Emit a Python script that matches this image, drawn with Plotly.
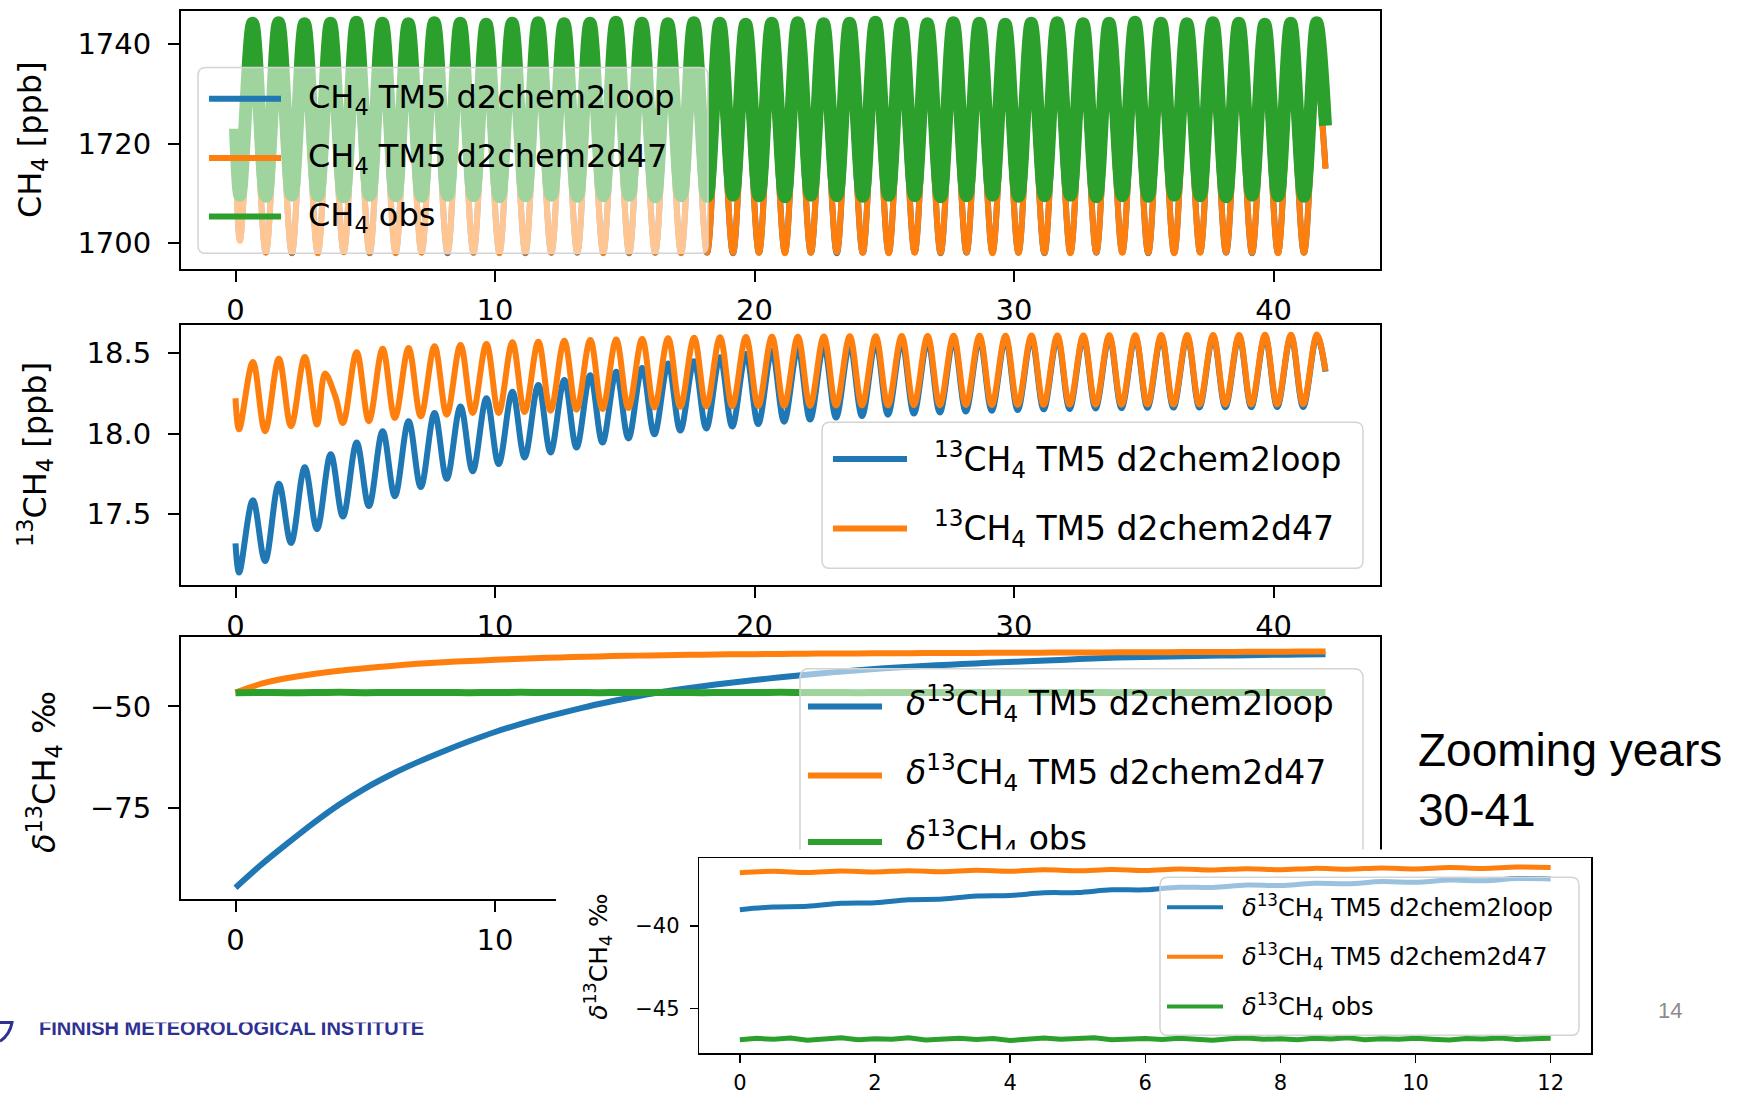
import numpy as np
import plotly.graph_objects as go

W, H = 1738, 1095

# ======================= DATA =======================
# ---- Panel 1: CH4 [ppb]; one seasonal trough and one peak per model year 0..41
CH4_TROUGH_PHASE = 0.17
CH4_PEAK_PHASE = 0.66
CH4_END_YEAR = 42.0

CH4_LOOP_START, CH4_LOOP_END = 1720.3, 1715.1
CH4_LOOP_TROUGH = [1700.6, 1698.1, 1697.9, 1698.0, 1698.2, 1697.9, 1698.0, 1698.1, 1697.9, 1698.0,
                   1698.1, 1697.9, 1698.0, 1698.0, 1698.1, 1697.9, 1698.0, 1698.1, 1698.0, 1697.9,
                   1698.0, 1698.1, 1698.0, 1697.9, 1698.0, 1698.0, 1698.1, 1697.9, 1698.0, 1698.1,
                   1698.0, 1697.9, 1698.0, 1698.0, 1698.1, 1697.9, 1698.0, 1698.1, 1698.0, 1697.9,
                   1698.0, 1698.0]
CH4_LOOP_PEAK = [1733.4, 1733.2, 1733.5, 1734.1, 1733.3, 1733.1, 1733.4, 1733.2, 1733.3, 1733.0,
                 1733.2, 1733.4, 1733.1, 1733.3, 1733.2, 1733.0, 1733.3, 1733.2, 1733.4, 1733.1,
                 1733.2, 1733.3, 1733.0, 1733.2, 1733.4, 1733.1, 1733.2, 1733.3, 1733.0, 1733.2,
                 1733.4, 1733.1, 1733.2, 1733.3, 1733.0, 1733.2, 1733.4, 1733.1, 1733.2, 1733.3,
                 1733.1, 1733.2]
CH4_D47_START, CH4_D47_END = 1720.0, 1714.9
CH4_D47_TROUGH = [1700.4, 1698.0, 1698.0, 1697.9, 1698.1, 1698.0, 1697.9, 1698.0, 1698.1, 1698.0,
                  1697.9, 1698.0, 1698.0, 1698.1, 1697.9, 1698.0, 1698.0, 1697.9, 1698.1, 1698.0,
                  1698.0, 1697.9, 1698.0, 1698.1, 1698.0, 1697.9, 1698.0, 1698.0, 1698.1, 1697.9,
                  1698.0, 1698.0, 1697.9, 1698.1, 1698.0, 1698.0, 1697.9, 1698.0, 1698.1, 1698.0,
                  1697.9, 1698.0]
CH4_D47_PEAK = [1733.2, 1733.3, 1733.4, 1733.1, 1733.2, 1733.3, 1733.0, 1733.2, 1733.4, 1733.1,
                1733.3, 1733.2, 1733.0, 1733.3, 1733.2, 1733.4, 1733.1, 1733.2, 1733.3, 1733.0,
                1733.2, 1733.4, 1733.1, 1733.3, 1733.2, 1733.0, 1733.3, 1733.2, 1733.4, 1733.1,
                1733.2, 1733.3, 1733.0, 1733.2, 1733.4, 1733.1, 1733.3, 1733.2, 1733.0, 1733.3,
                1733.2, 1733.3]
CH4_OBS_START, CH4_OBS_END = 1723.0, 1723.6
CH4_OBS_TROUGH = [1709.6, 1709.4, 1709.6, 1709.5, 1709.3, 1709.6, 1709.5, 1709.4, 1709.6, 1709.5,
                  1709.3, 1709.5, 1709.6, 1709.4, 1709.5, 1709.6, 1709.3, 1709.5, 1709.4, 1709.6,
                  1709.5, 1709.3, 1709.6, 1709.5, 1709.4, 1709.6, 1709.5, 1709.3, 1709.5, 1709.6,
                  1709.4, 1709.5, 1709.6, 1709.3, 1709.5, 1709.4, 1709.6, 1709.5, 1709.3, 1709.6,
                  1709.5, 1709.4]
CH4_OBS_PEAK = [1744.2, 1744.3, 1744.1, 1744.2, 1744.4, 1744.2, 1744.1, 1744.3, 1744.2, 1744.0,
                1744.2, 1744.3, 1744.1, 1744.2, 1744.4, 1744.2, 1744.1, 1744.3, 1744.2, 1744.0,
                1744.2, 1744.3, 1744.1, 1744.2, 1744.4, 1744.2, 1744.1, 1744.3, 1744.2, 1744.0,
                1744.2, 1744.3, 1744.1, 1744.2, 1744.4, 1744.2, 1744.1, 1744.3, 1744.2, 1744.0,
                1744.2, 1744.3]

# ---- Panel 2: 13CH4 [ppb]
C13_TROUGH_PHASE = 0.14
C13_PEAK_PHASE = 0.67
C13_LOOP_START, C13_LOOP_END = 17.32, 18.385
C13_LOOP_TROUGH = [17.139, 17.210, 17.322, 17.408, 17.486, 17.551, 17.612, 17.669, 17.720, 17.767,
                   17.812, 17.853, 17.884, 17.914, 17.945, 17.971, 17.996, 18.020, 18.033, 18.045,
                   18.060, 18.075, 18.088, 18.100, 18.110, 18.118, 18.125, 18.132, 18.138, 18.143,
                   18.147, 18.151, 18.154, 18.157, 18.159, 18.161, 18.162, 18.163, 18.164, 18.165,
                   18.166, 18.166]
C13_LOOP_PEAK = [17.588, 17.690, 17.792, 17.873, 17.945, 18.016, 18.078, 18.129, 18.169, 18.220,
                 18.261, 18.302, 18.333, 18.363, 18.384, 18.408, 18.435, 18.449, 18.475, 18.495,
                 18.515, 18.530, 18.545, 18.555, 18.565, 18.572, 18.578, 18.583, 18.587, 18.590,
                 18.593, 18.595, 18.597, 18.599, 18.600, 18.601, 18.602, 18.603, 18.604, 18.605,
                 18.606, 18.607]
C13_D47_START, C13_D47_END = 18.22, 18.39
C13_D47_TROUGH = [18.027, 18.016, 18.047, 18.057, 18.067, 18.078, 18.098, 18.108, 18.118, 18.129,
                  18.129, 18.135, 18.143, 18.149, 18.153, 18.159, 18.163, 18.167, 18.169, 18.171,
                  18.172, 18.173, 18.174, 18.175, 18.176, 18.176, 18.177, 18.177, 18.178, 18.178,
                  18.179, 18.179, 18.180, 18.180, 18.180, 18.181, 18.181, 18.181, 18.182, 18.182,
                  18.182, 18.183]
C13_D47_PEAK = [18.445, 18.465, 18.476, 18.373, 18.506, 18.527, 18.531, 18.543, 18.551, 18.557,
                18.567, 18.571, 18.576, 18.582, 18.584, 18.588, 18.592, 18.596, 18.598, 18.600,
                18.601, 18.602, 18.603, 18.604, 18.605, 18.606, 18.606, 18.607, 18.608, 18.608,
                18.609, 18.610, 18.610, 18.611, 18.611, 18.612, 18.612, 18.613, 18.613, 18.614,
                18.614, 18.615]
C13_D47_PEAK_TIME_OVERRIDE = {3: 3.45}          # irregular peak in year 3
C13_D47_EXTRA_POINTS = [(3.85, 18.23)]          # shoulder after that peak

# ---- Panel 3: delta13CH4 permil, yearly values 0..42
D13_YEARS = list(range(43))
D13_LOOP = [-94.7, -89.0, -83.8, -78.8, -74.2, -70.2, -66.8, -63.8, -61.1, -58.6,
            -56.3, -54.3, -52.5, -50.9, -49.4, -48.1, -46.9, -45.9, -45.0, -44.2,
            -43.5, -42.8, -42.2, -41.6, -41.1, -40.6, -40.2, -39.85, -39.55, -39.25,
            -39.0, -38.72, -38.46, -38.2, -37.96, -37.8, -37.66, -37.56, -37.46, -37.36,
            -37.26, -37.19, -37.12]
D13_D47 = [-46.6, -44.4, -43.0, -42.0, -41.2, -40.6, -40.0, -39.5, -39.1, -38.8,
           -38.5, -38.25, -38.0, -37.82, -37.66, -37.52, -37.42, -37.32, -37.23, -37.16,
           -37.1, -37.04, -36.99, -36.95, -36.92, -36.89, -36.86, -36.84, -36.81, -36.79,
           -36.76, -36.73, -36.71, -36.68, -36.66, -36.63, -36.61, -36.58, -36.56, -36.53,
           -36.51, -36.48, -36.46]
D13_OBS = [-46.6, -46.55, -46.62, -46.57, -46.53, -46.6, -46.56, -46.58, -46.54, -46.61,
           -46.56, -46.53, -46.59, -46.57, -46.6, -46.55, -46.58, -46.54, -46.6, -46.56,
           -46.57, -46.53, -46.59, -46.56, -46.6, -46.55, -46.58, -46.54, -46.57, -46.6,
           -46.56, -46.53, -46.58, -46.55, -46.6, -46.56, -46.57, -46.54, -46.59, -46.55,
           -46.58, -46.56, -46.57]

# ---- Inset: years 30-41 zoomed (x = 0..12)
INSET_HALF_YEAR_STEP = 0.5
INSET_D47 = [-36.78, -36.70, -36.77, -36.68, -36.74, -36.66, -36.72, -36.64, -36.70, -36.61,
             -36.67, -36.59, -36.65, -36.56, -36.62, -36.54, -36.60, -36.52, -36.57, -36.49,
             -36.55, -36.47, -36.52, -36.44, -36.47]
INSET_LOOP = [-39.02, -38.86, -38.82, -38.64, -38.60, -38.42, -38.38, -38.20, -38.16, -38.00,
              -37.98, -37.82, -37.82, -37.66, -37.68, -37.53, -37.56, -37.42, -37.45, -37.32,
              -37.36, -37.23, -37.27, -37.14, -37.16]
INSET_QUARTER_STEP = 0.25
INSET_OBS = [-46.90, -46.82, -46.88, -46.80, -46.93, -46.85, -46.79, -46.90, -46.84, -46.88,
             -46.78, -46.92, -46.86, -46.81, -46.89, -46.83, -46.95, -46.84, -46.80, -46.88,
             -46.86, -46.79, -46.91, -46.85, -46.83, -46.89, -46.81, -46.87, -46.93, -46.84,
             -46.80, -46.88, -46.85, -46.90, -46.82, -46.86, -46.79, -46.91, -46.84, -46.88,
             -46.81, -46.87, -46.92, -46.83, -46.86, -46.80, -46.89, -46.84, -46.82]

# ---- Tick values and labels
MAIN_XTICKS = [0, 10, 20, 30, 40]
TOP_YTICKS = [1700, 1720, 1740]
MID_YTICKS = [17.5, 18.0, 18.5]
BOT_YTICKS = [-75, -50]
INSET_XTICKS = [0, 2, 4, 6, 8, 10, 12]
INSET_YTICKS = [-45, -40]

TOP_LABELS = ["CH<sub>4</sub> TM5 d2chem2loop", "CH<sub>4</sub> TM5 d2chem2d47", "CH<sub>4</sub> obs"]
MID_LABELS = ["<sup>13</sup>CH<sub>4</sub> TM5 d2chem2loop", "<sup>13</sup>CH<sub>4</sub> TM5 d2chem2d47"]
D13_LABELS = ["<i>δ</i><sup>13</sup>CH<sub>4</sub> TM5 d2chem2loop",
              "<i>δ</i><sup>13</sup>CH<sub>4</sub> TM5 d2chem2d47",
              "<i>δ</i><sup>13</sup>CH<sub>4</sub> obs"]
YLABELS = ["CH<sub>4</sub> [ppb]", "<sup>13</sup>CH<sub>4</sub> [ppb]", "<i>δ</i><sup>13</sup>CH<sub>4</sub> ‰"]

# ======================= STYLE =======================
BLUE, ORANGE, GREEN = "#1f77b4", "#ff7f0e", "#2ca02c"
FONT = "DejaVu Sans"
LEGEND_FILL = "rgba(255,255,255,0.55)"
LEGEND_EDGE = "#d4d4d4"


def turning_points(start, troughs, peaks, end, t_phase, p_phase, end_x,
                   peak_time_override=None, extra=None):
    xs, ys = [0.0], [start]
    for n, (tr, pk) in enumerate(zip(troughs, peaks)):
        xs.append(n + t_phase)
        ys.append(tr)
        xs.append((peak_time_override or {}).get(n, n + p_phase))
        ys.append(pk)
    for ex, ey in (extra or []):
        xs.append(ex)
        ys.append(ey)
    xs.append(end_x)
    ys.append(end)
    order = np.argsort(xs, kind="stable")
    return list(np.array(xs)[order]), list(np.array(ys)[order])


def rrect_points(x0, y0, x1, y1, r, n=10):
    px, py = [], []
    for cx, cy, a0, a1 in [(x1 - r, y0 + r, -90, 0), (x1 - r, y1 - r, 0, 90),
                           (x0 + r, y1 - r, 90, 180), (x0 + r, y0 + r, 180, 270)]:
        for a in np.linspace(a0, a1, n):
            px.append(cx + r * np.cos(np.radians(a)))
            py.append(cy + r * np.sin(np.radians(a)))
    px.append(px[0])
    py.append(py[0])
    return px, py


def rrect_path(x0, y0, x1, y1, r):
    return (f"M {x0 + r},{y0} L {x1 - r},{y0} Q {x1},{y0} {x1},{y0 + r} "
            f"L {x1},{y1 - r} Q {x1},{y1} {x1 - r},{y1} L {x0 + r},{y1} "
            f"Q {x0},{y1} {x0},{y1 - r} L {x0},{y0 + r} Q {x0},{y0} {x0 + r},{y0} Z")


fig = go.Figure()
NOHOVER = dict(showlegend=False, hoverinfo="skip")

# ---------- subplot 1 (x,y): slide background: FMI text partly hidden by the figure image
fig.add_trace(go.Scatter(x=[39], y=[1037], mode="text",
                         text=["<b>FINNISH METEOROLOGICAL INSTITUTE</b>"],
                         textposition="middle right",
                         textfont=dict(family="Liberation Sans", size=20, color="#2e3192"),
                         xaxis="x", yaxis="y", **NOHOVER))
fig.add_trace(go.Scatter(x=[0, 1400, 1400, 0, 0], y=[0, 0, 1029, 1029, 0], mode="lines",
                         fill="toself", fillcolor="white", line=dict(width=0),
                         xaxis="x", yaxis="y", **NOHOVER))

# ---------- subplot 2: CH4
for start, tr, pk, end, col, w in [
        (CH4_LOOP_START, CH4_LOOP_TROUGH, CH4_LOOP_PEAK, CH4_LOOP_END, BLUE, 6),
        (CH4_D47_START, CH4_D47_TROUGH, CH4_D47_PEAK, CH4_D47_END, ORANGE, 6),
        (CH4_OBS_START, CH4_OBS_TROUGH, CH4_OBS_PEAK, CH4_OBS_END, GREEN, 13)]:
    xs, ys = turning_points(start, tr, pk, end, CH4_TROUGH_PHASE, CH4_PEAK_PHASE, CH4_END_YEAR)
    fig.add_trace(go.Scatter(x=xs, y=ys, mode="lines",
                             line=dict(color=col, width=w, shape="spline", smoothing=1),
                             xaxis="x2", yaxis="y2", **NOHOVER))

# ---------- subplot 3: 13CH4
xs, ys = turning_points(C13_LOOP_START, C13_LOOP_TROUGH, C13_LOOP_PEAK, C13_LOOP_END,
                        C13_TROUGH_PHASE, C13_PEAK_PHASE, CH4_END_YEAR)
fig.add_trace(go.Scatter(x=xs, y=ys, mode="lines",
                         line=dict(color=BLUE, width=6, shape="spline", smoothing=1),
                         xaxis="x3", yaxis="y3", **NOHOVER))
xs, ys = turning_points(C13_D47_START, C13_D47_TROUGH, C13_D47_PEAK, C13_D47_END,
                        C13_TROUGH_PHASE, C13_PEAK_PHASE, CH4_END_YEAR,
                        C13_D47_PEAK_TIME_OVERRIDE, C13_D47_EXTRA_POINTS)
fig.add_trace(go.Scatter(x=xs, y=ys, mode="lines",
                         line=dict(color=ORANGE, width=6, shape="spline", smoothing=1),
                         xaxis="x3", yaxis="y3", **NOHOVER))

# ---------- subplot 4: delta13CH4
for vals, col, w in [(D13_LOOP, BLUE, 6), (D13_D47, ORANGE, 6), (D13_OBS, GREEN, 7)]:
    fig.add_trace(go.Scatter(x=D13_YEARS, y=vals, mode="lines",
                             line=dict(color=col, width=w, shape="spline", smoothing=0.8),
                             xaxis="x4", yaxis="y4", **NOHOVER))

# ---------- subplot 5 (overlay in pixel units): legend of panel 3, then the inset's white image
bx, by = rrect_points(800, 673, 1363, 895, 8)
fig.add_trace(go.Scatter(x=bx, y=by, mode="lines", fill="toself", fillcolor=LEGEND_FILL,
                         line=dict(color=LEGEND_EDGE, width=1.5),
                         xaxis="x5", yaxis="y5", **NOHOVER))
BOT_ROWS = [711, 780.5, 847.5]
for row, col in zip(BOT_ROWS, [BLUE, ORANGE, GREEN]):
    fig.add_trace(go.Scatter(x=[808, 882], y=[row, row], mode="lines",
                             line=dict(color=col, width=6), xaxis="x5", yaxis="y5", **NOHOVER))
fig.add_trace(go.Scatter(x=[906] * 3, y=BOT_ROWS, mode="text", text=D13_LABELS,
                         textposition="middle right",
                         textfont=dict(family=FONT, size=33, color="black"),
                         xaxis="x5", yaxis="y5", **NOHOVER))
fig.add_trace(go.Scatter(x=[556, 1625, 1625, 556, 556], y=[855, 855, 1095, 1095, 855],
                         mode="lines", fill="toself", fillcolor="white", line=dict(width=0),
                         xaxis="x5", yaxis="y5", **NOHOVER))

# ---------- subplot 6: inset
ix_half = [i * INSET_HALF_YEAR_STEP for i in range(len(INSET_LOOP))]
ix_q = [i * INSET_QUARTER_STEP for i in range(len(INSET_OBS))]
fig.add_trace(go.Scatter(x=ix_half, y=INSET_LOOP, mode="lines",
                         line=dict(color=BLUE, width=5, shape="spline", smoothing=1),
                         xaxis="x6", yaxis="y6", **NOHOVER))
fig.add_trace(go.Scatter(x=ix_half, y=INSET_D47, mode="lines",
                         line=dict(color=ORANGE, width=5, shape="spline", smoothing=1),
                         xaxis="x6", yaxis="y6", **NOHOVER))
fig.add_trace(go.Scatter(x=ix_q, y=INSET_OBS, mode="lines",
                         line=dict(color=GREEN, width=5),
                         xaxis="x6", yaxis="y6", **NOHOVER))

# ======================= LAYOUT =======================
def px_dom_x(a, b):
    return [a / W, b / W]


def px_dom_y(top, bottom):
    return [1 - bottom / H, 1 - top / H]


AX = dict(showline=True, linecolor="black", linewidth=2, mirror=True, ticks="outside",
          ticklen=11, tickwidth=2, tickcolor="black", showgrid=False, zeroline=False,
          tickfont=dict(family=FONT, size=29, color="black"), fixedrange=True)
AXI = dict(AX, linewidth=1.5, ticklen=8, tickwidth=1.5,
           tickfont=dict(family=FONT, size=21, color="black"))
HIDDEN = dict(visible=False, fixedrange=True, showgrid=False, zeroline=False)

MAIN_X = px_dom_x(181, 1380)
layout = dict(
    width=W, height=H, autosize=False, margin=dict(l=0, r=0, t=0, b=0),
    paper_bgcolor="white", plot_bgcolor="rgba(0,0,0,0)", showlegend=False, hovermode=False,
    font=dict(family=FONT, color="black"),
    xaxis=dict(HIDDEN, domain=[0, 1], range=[0, W], anchor="y"),
    yaxis=dict(HIDDEN, domain=[0, 1], range=[H, 0], anchor="x"),
    xaxis2=dict(AX, domain=MAIN_X, range=[-2.1, 44.1], anchor="y2", tickvals=MAIN_XTICKS,
                ticklabelstandoff=3),
    yaxis2=dict(AX, domain=px_dom_y(11, 271), range=[1694.68, 1746.7], anchor="x2",
                tickvals=TOP_YTICKS, ticklabelstandoff=11),
    xaxis3=dict(AX, domain=MAIN_X, range=[-2.1, 44.1], anchor="y3", tickvals=MAIN_XTICKS,
                ticklabelstandoff=3),
    yaxis3=dict(AX, domain=px_dom_y(327, 589), range=[17.06, 18.675], anchor="x3",
                tickvals=MID_YTICKS, tickformat=".1f", ticklabelstandoff=11),
    xaxis4=dict(AX, domain=MAIN_X, range=[-2.1, 44.1], anchor="y4", tickvals=MAIN_XTICKS,
                ticklabelstandoff=3),
    yaxis4=dict(AX, domain=px_dom_y(641, 905), range=[-97.55, -32.85], anchor="x4",
                tickvals=BOT_YTICKS, ticklabelstandoff=11),
    xaxis5=dict(HIDDEN, domain=[0, 1], range=[0, W], anchor="y5"),
    yaxis5=dict(HIDDEN, domain=[0, 1], range=[H, 0], anchor="x5"),
    xaxis6=dict(AXI, domain=px_dom_x(699.3, 1591.2), range=[-0.6, 12.6], anchor="y6",
                tickvals=INSET_XTICKS, ticklabelstandoff=2),
    yaxis6=dict(AXI, domain=px_dom_y(864, 1060), range=[-47.72, -35.92], anchor="x6",
                tickvals=INSET_YTICKS, ticklabelstandoff=6),
)

shapes = []
annotations = []


def add_legend(box, rows, hx, tx, labels, colors, fs, lw):
    x0, y0, x1, y1 = box
    shapes.append(dict(type="path", path=rrect_path(x0, y0, x1, y1, 8), xref="x5", yref="y5",
                       fillcolor=LEGEND_FILL, line=dict(color=LEGEND_EDGE, width=1.5),
                       layer="above"))
    for row, col, lab in zip(rows, colors, labels):
        shapes.append(dict(type="line", x0=hx[0], x1=hx[1], y0=row, y1=row, xref="x5", yref="y5",
                           line=dict(color=col, width=lw), layer="above"))
        annotations.append(dict(x=tx, y=row, xref="x5", yref="y5", text=lab, showarrow=False,
                                xanchor="left", yanchor="middle",
                                font=dict(family=FONT, size=fs, color="black")))


add_legend((198, 68, 708, 255), [99.5, 159, 218], (209, 281), 306, TOP_LABELS,
           [BLUE, ORANGE, GREEN], 32, 6)
add_legend((822, 425, 1363, 572), [462, 532], (833, 907), 932, MID_LABELS,
           [BLUE, ORANGE], 33, 6)
add_legend((1160, 883, 1579, 1042), [913, 963, 1013], (1167, 1223), 1240, D13_LABELS,
           [BLUE, ORANGE, GREEN], 24, 4)

# y-axis titles
for (x, y, fs), lab in zip([(32, 141, 32), (35, 458, 32), (44, 777, 32)], YLABELS):
    annotations.append(dict(x=x, y=y, xref="x5", yref="y5", text=lab, textangle=-90,
                            showarrow=False, xanchor="center", yanchor="middle",
                            font=dict(family=FONT, size=fs, color="black")))
annotations.append(dict(x=598, y=963, xref="x5", yref="y5", text=YLABELS[2], textangle=-90,
                        showarrow=False, xanchor="center", yanchor="middle",
                        font=dict(family=FONT, size=25, color="black")))

# slide texts
annotations.append(dict(x=1416, y=785, xref="x5", yref="y5", text="Zooming years<br>30-41",
                        showarrow=False, xanchor="left", yanchor="middle", align="left",
                        font=dict(family="Liberation Sans", size=46, color="black")))
annotations.append(dict(x=1670, y=1016.5, xref="x5", yref="y5", text="14", showarrow=False,
                        xanchor="center", yanchor="middle",
                        font=dict(family="Liberation Sans", size=22, color="#8c8c8c")))

# fragment of the FMI logo at the slide's left edge
shapes.append(dict(type="path", path="M 0,1029 L 12,1029 Q 10,1041 0,1048",
                   xref="x5", yref="y5", line=dict(color="#2e3192", width=3), layer="above"))

layout["shapes"] = shapes
layout["annotations"] = annotations
fig.update_layout(**layout)

fig.write_html("out.html", config={"displayModeBar": False, "staticPlot": True})
